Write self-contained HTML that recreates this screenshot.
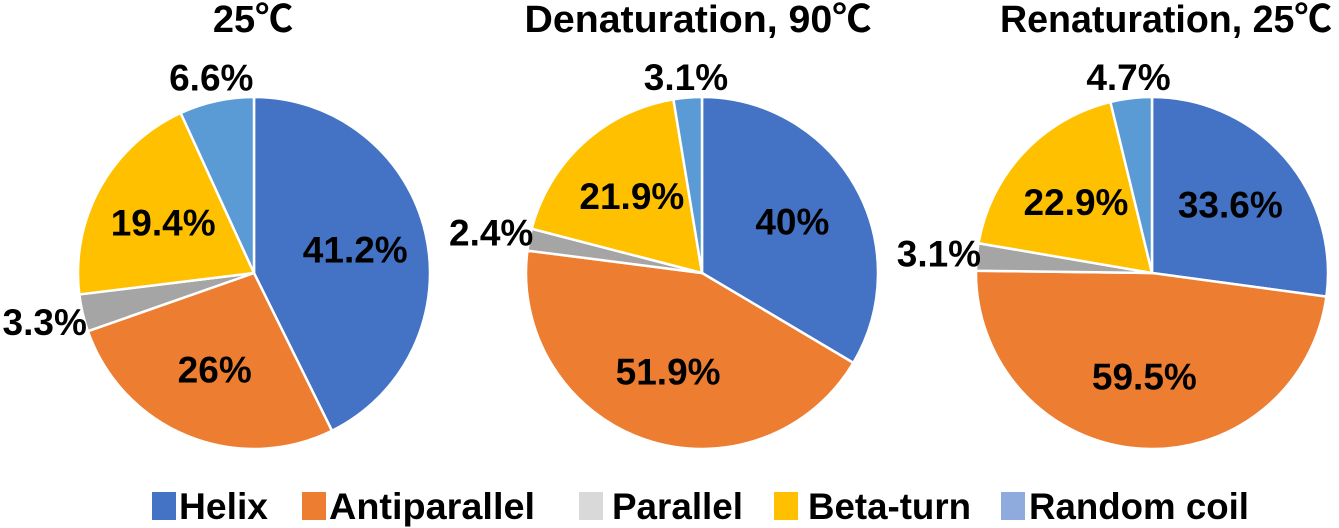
<!DOCTYPE html>
<html><head><meta charset="utf-8"><style>
html,body{margin:0;padding:0;background:#fff;}
svg{display:block;font-family:"Liberation Sans","Noto Sans CJK JP",sans-serif;font-weight:bold;}
</style></head><body>
<svg id="chart" width="1339" height="528" viewBox="0 0 1339 528"></svg>
<script>
const categories = ["Helix","Antiparallel","Parallel","Beta-turn","Random coil"];
const panelTitles = ["25℃","Denaturation, 90℃","Renaturation, 25℃"];
const values25 = [41.2, 26, 3.3, 19.4, 6.6];
const valuesDenat = [40, 51.9, 2.4, 21.9, 3.1];
const valuesRenat = [33.6, 59.5, 3.1, 22.9, 4.7];
const valueLabels25 = ["41.2%","26%","3.3%","19.4%","6.6%"];
const valueLabelsDenat = ["40%","51.9%","2.4%","21.9%","3.1%"];
const valueLabelsRenat = ["33.6%","59.5%","3.1%","22.9%","4.7%"];

const NS = "http://www.w3.org/2000/svg";
const svg = document.getElementById("chart");
const colors = ["#4472C4","#ED7D31","#A5A5A5","#FFC000","#5B9BD5"];
const legendColors = ["#4472C4","#ED7D31","#D9D9D9","#FFC000","#8FAADC"];
const centersX = [254, 702, 1152];
const titleX = [253, 698, 1166];
const titleW = [0, 347, 332];
const cy = 273, r = 176;
const series = [values25, valuesDenat, valuesRenat];
const labelSets = [valueLabels25, valueLabelsDenat, valueLabelsRenat];
const keys = ["25c","denat-90c","renat-25c"];

function mk(tag, attrs){const e=document.createElementNS(NS,tag);for(const k in attrs)e.setAttribute(k,attrs[k]);return e;}
function pt(cx, a, R){return [cx+Math.sin(a)*R, cy-Math.cos(a)*R];}

series.forEach((vals, p) => {
  const cx = centersX[p];
  const g = mk("g", {});
  
  
  svg.appendChild(g);
  const ta = {x: titleX[p], y: 32, "text-anchor": "middle", "font-size": 38, fill: "#000"};
  if (titleW[p]) { ta.textLength = titleW[p]; ta.lengthAdjust = "spacingAndGlyphs"; }
  const title = mk("text", ta);
  
  
  title.textContent = panelTitles[p];
  svg.appendChild(title);
  const total = vals.reduce((s,v)=>s+v,0);
  let cum = 0;
  vals.forEach((v, i) => {
    const a0 = cum/total*2*Math.PI; cum += v;
    const a1 = cum/total*2*Math.PI;
    const [x0,y0] = pt(cx,a0,r), [x1,y1] = pt(cx,a1,r);
    const large = (a1-a0) > Math.PI ? 1 : 0;
    const path = mk("path", {d:`M${cx},${cy} L${x0},${y0} A${r},${r} 0 ${large} 1 ${x1},${y1} Z`, fill: colors[i], stroke:"#fff", "stroke-width":2.5, "stroke-linejoin":"round"});
    
    
    g.appendChild(path);
    const frac = v/total;
    const mid = (a0+a1)/2;
    const R = frac < 0.08 ? r + 6 + 12*Math.abs(Math.cos(mid)) + 31*Math.abs(Math.sin(mid)) : 104;
    const [lx, ly] = pt(cx, mid, R);
    const t = mk("text", {x: lx, y: ly + 13, "text-anchor": "middle", "font-size": 37, fill: "#000"});
    
    
    t.textContent = labelSets[p][i];
    g.appendChild(t);
  });
});

// legend
const legendSwatchX = [152, 302, 579, 774, 1001];
const legendTextX = [179, 329, 612, 808, 1029];
const legendTextW = [89, 206, 131, 163, 220];
const lg = mk("g", {});


svg.appendChild(lg);
categories.forEach((c, i) => {
  const e = mk("g", {});
  
  
  lg.appendChild(e);
  const sw = mk("rect", {x: legendSwatchX[i], y: 492, width: 24, height: 28, fill: legendColors[i]});
  
  
  e.appendChild(sw);
  const t = mk("text", {x: legendTextX[i], y: 519, "font-size": 37, fill: "#000", textLength: legendTextW[i], lengthAdjust: "spacingAndGlyphs"});
  
  
  t.textContent = c;
  e.appendChild(t);
});
</script>
</body></html>
